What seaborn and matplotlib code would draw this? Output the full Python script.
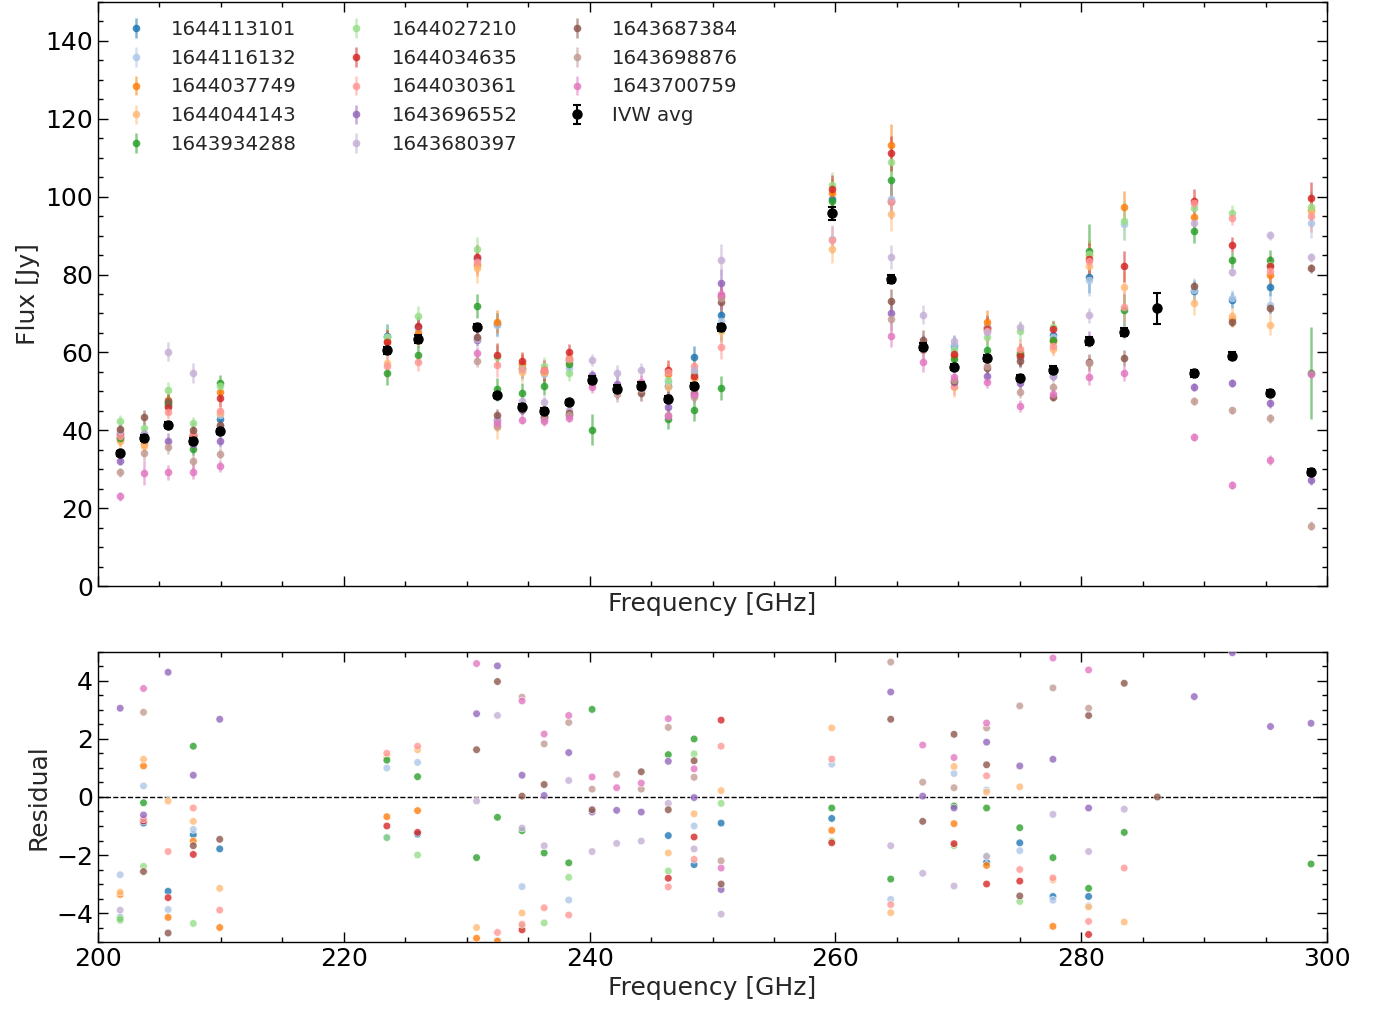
import numpy as np
import pandas as pd
import matplotlib
matplotlib.use("Agg")
import matplotlib.pyplot as plt
import seaborn as sns
from matplotlib.ticker import MultipleLocator

nan = np.nan

freq = [201.8, 203.7, 205.7, 207.75, 209.9, 223.5, 226.0, 230.8, 232.5, 234.5, 236.3, 238.3,
        240.2, 242.2, 244.2, 246.4, 248.5, 250.7, 259.7, 264.5, 267.1, 269.65, 272.3, 275.0,
        277.7, 280.6, 283.5, 286.2, 289.2, 292.3, 295.4, 298.7]

labels = ["1644113101", "1644116132", "1644037749", "1644044143", "1643934288",
          "1644027210", "1644034635", "1644030361", "1643696552", "1643680397",
          "1643687384", "1643698876", "1643700759"]

flux_1644113101 = [38.4, 38.0, 46.5, 38.5, 42.9, 64.3, 66.5, 84.0, 67.2, 56.0, 55.0, 58.0, nan, nan, nan, 51.5, 58.7, 69.7, 99.3, 99.0, nan, 61.6, 66.6, 59.3, 64.4, 79.3, nan, nan, 75.7, 73.4, 76.9, nan]
flux_1644116132 = [38.0, 38.3, 46.8, 39.0, 44.0, 64.0, 66.0, 84.0, 67.0, 55.5, 54.5, 56.0, nan, nan, nan, 52.5, 54.5, 68.0, 89.2, 99.3, nan, 62.0, 66.5, 58.5, 64.0, 78.5, 93.0, nan, 76.0, 74.0, 72.1, 93.3]
flux_1644037749 = [37.5, 36.5, 47.9, 38.5, 49.8, 63.0, 65.0, 82.5, 67.9, 57.0, 55.0, 58.5, nan, nan, nan, 54.5, 53.5, 66.0, 101.0, 113.2, nan, 59.0, 67.8, 60.0, 63.0, 85.0, 97.4, nan, 94.9, 68.5, 80.0, 96.5]
flux_1644044143 = [37.3, 36.0, 47.2, 38.5, 44.5, 57.3, 64.0, 81.7, 40.8, 55.0, 55.0, 57.5, nan, nan, nan, 51.0, 53.5, 65.4, 86.5, 95.6, nan, 51.0, 66.0, 60.0, 61.0, 82.3, 76.8, nan, 72.7, 69.3, 67.1, 96.3]
flux_1643934288 = [38.0, 38.5, 47.0, 35.2, 52.2, 54.7, 59.4, 71.9, 50.5, 49.6, 51.5, 56.9, 40.1, nan, nan, 42.9, 45.3, 50.9, 98.9, 104.2, nan, 58.2, 60.6, 59.7, 63.1, 86.0, 70.9, nan, 91.2, 83.8, 83.8, 54.7]
flux_1644027210 = [42.5, 40.7, 50.4, 41.9, 51.3, 64.0, 69.3, 86.6, 58.9, 56.0, 56.4, 54.7, nan, nan, nan, 53.0, 55.0, 66.0, 102.9, 109.0, nan, 60.7, 64.0, 65.4, 66.4, 85.3, 93.8, nan, 97.2, 95.9, 82.5, 97.4]
flux_1644034635 = [39.0, 38.0, 45.9, 38.9, 48.3, 62.7, 66.7, 84.5, 59.4, 57.7, 55.5, 60.2, nan, nan, nan, 55.6, 53.9, 74.5, 102.1, 111.1, nan, 59.6, 66.1, 59.0, 66.1, 84.1, 82.1, nan, 98.9, 87.7, 82.2, 99.7]
flux_1644030361 = [38.6, 38.0, 44.8, 39.0, 45.0, 56.4, 57.6, 83.3, 56.7, 55.8, 55.6, 58.4, nan, nan, nan, 54.9, 56.6, 61.4, 89.0, 98.7, nan, 51.5, 65.5, 61.0, 61.6, 83.5, 71.7, nan, 98.3, 94.6, 80.9, 95.0]
flux_1643696552 = [32.2, 39.0, 37.3, 36.5, 37.3, nan, nan, 63.1, 42.7, 45.1, 43.5, 44.0, 54.1, 52.0, 51.0, 45.9, 49.0, 77.8, nan, 70.2, 62.0, 52.5, 53.9, 52.2, 53.9, 63.5, nan, nan, 51.1, 52.2, 46.9, 27.2]
flux_1643680397 = [39.7, 39.0, 60.2, 54.7, 41.0, nan, nan, 63.5, 43.0, 47.4, 47.2, 45.3, 58.0, 54.7, 55.4, 48.5, 55.4, 83.8, nan, 84.5, 69.7, 62.9, 65.2, 66.5, 54.0, 69.5, 65.5, nan, 93.2, 80.7, 90.1, 84.4]
flux_1643687384 = [40.4, 43.3, 47.4, 40.1, 41.3, nan, nan, 63.9, 44.0, 45.5, 43.5, 44.5, 52.5, 50.0, 49.6, 48.5, 49.5, 73.0, nan, 73.3, 63.3, 52.6, 55.9, 57.7, 48.6, 57.5, 58.6, 71.3, 77.0, 67.9, 71.3, 81.6]
flux_1643698876 = [29.2, 34.1, 35.8, 32.0, 34.0, nan, nan, 57.7, 41.2, 45.5, 43.0, 44.0, 52.0, 49.2, 50.5, 43.9, 48.5, 74.0, nan, 68.5, 60.7, 53.0, 56.5, 49.8, 51.1, 57.2, nan, nan, 47.5, 45.1, 43.1, 15.5]
flux_1643700759 = [23.0, 29.0, 29.2, 29.4, 30.9, nan, nan, 59.9, 41.9, 42.7, 42.5, 43.2, 51.1, 50.5, 52.3, 43.7, 49.3, 74.9, nan, 64.3, 57.5, 53.6, 52.3, 46.3, 49.3, 53.6, 54.6, nan, 38.3, 26.0, 32.4, 54.5]

ivw_avg = [34.1, 38.0, 41.4, 37.3, 39.7, 60.5, 63.5, 66.5, 49.0, 46.1, 44.9, 47.2, 53.0, 50.7, 51.5, 48.0, 51.3, 66.5, 95.7, 78.9, 61.4, 56.2, 58.6, 53.4, 55.6, 63.0, 65.3, 71.3, 54.6, 59.2, 49.6, 29.2]
ivw_err = [0.7, 0.7, 0.7, 0.7, 0.7, 1.0, 1.0, 0.8, 0.7, 0.7, 0.7, 0.7, 0.9, 0.9, 0.9, 0.8, 0.8, 0.9, 1.7, 1.0, 0.9, 0.8, 0.8, 0.8, 0.8, 1.0, 1.0, 4.0, 0.8, 0.8, 0.8, 0.8]

# typical flux uncertainties for the two observing groups
err_groupA = [1.5, 1.5, 2.0, 1.5, 2.0, 3.0, 2.5, 3.0, 3.0, 2.5, 2.5, 2.0, 4.0, 2.0, 2.0, 2.5, 3.0, 3.0, 3.5, 4.5, 2.0, 2.5, 3.0, 2.5, 2.0, 4.0, 4.0, 2.0, 3.0, 2.0, 2.5, 4.0]
err_groupB = [1.2, 2.0, 2.0, 2.0, 1.5, 1.5, 1.5, 1.5, 1.5, 1.2, 1.5, 1.2, 1.5, 2.0, 2.0, 1.5, 1.5, 3.5, 1.5, 3.0, 2.5, 1.5, 1.5, 1.5, 1.2, 2.0, 2.0, 1.5, 1.0, 1.0, 1.2, 1.2]
err_special = [(4, 25, 7.0), (4, 31, 11.7), (2, 19, 5.5), (5, 26, 5.0), (12, 1, 3.0),
               (3, 7, 4.0), (9, 2, 2.5), (9, 17, 4.0), (9, 3, 2.5)]

res_1644113101 = [-4.16, -0.90, -3.25, -1.30, -1.79, -1.40, -1.28, nan, nan, nan, nan, nan, nan, nan, nan, -1.33, -2.33, -0.90, -0.74, nan, nan, nan, -2.25, -1.58, -3.43, -3.43, nan, nan, nan, nan, nan, nan]
res_1644116132 = [-2.68, 0.38, -3.88, -1.12, nan, 1.00, 1.19, nan, -4.94, -3.09, nan, -3.55, nan, nan, nan, nan, -1.00, nan, 1.13, -3.53, nan, 0.81, 0.24, -1.85, -3.56, -3.75, nan, nan, nan, nan, nan, nan]
res_1644037749 = [-3.36, 1.07, -4.15, -1.52, -4.50, -0.68, -0.47, -4.87, -4.97, nan, nan, nan, nan, nan, nan, nan, nan, nan, -1.15, nan, nan, -0.92, -2.36, nan, -4.46, nan, nan, nan, nan, nan, nan, nan]
res_1644044143 = [-3.28, 1.30, -0.14, -0.84, -3.15, 1.38, 1.63, -4.50, nan, -4.00, nan, nan, nan, nan, nan, -1.93, -0.58, 0.22, 2.38, -3.99, nan, 1.05, 0.17, 0.35, -2.86, -3.79, -4.31, nan, nan, nan, nan, nan]
res_1643934288 = [-4.24, -0.20, nan, 1.75, nan, 1.27, 0.70, -2.09, -0.70, -1.16, -1.93, -2.27, 3.02, nan, nan, 1.46, 2.00, nan, -0.38, -2.83, nan, -0.31, -0.38, -1.06, -2.09, -3.15, -1.22, nan, nan, nan, nan, -2.31]
res_1644027210 = [-4.20, -2.39, nan, -4.36, nan, -1.40, -2.00, nan, nan, -4.45, -4.34, -2.77, nan, nan, nan, -2.55, 1.49, -0.22, -1.52, nan, nan, -1.68, -2.03, -3.60, nan, nan, nan, nan, nan, nan, nan, nan]
res_1644034635 = [nan, -0.83, -3.47, -1.98, nan, -1.00, -1.22, nan, nan, -4.58, nan, nan, nan, nan, nan, -2.80, -1.38, 2.65, -1.58, nan, nan, -1.61, -3.00, -2.90, nan, -4.74, nan, nan, nan, nan, nan, nan]
res_1644030361 = [nan, -0.75, -1.88, -0.38, -3.90, 1.51, 1.75, nan, -4.67, -4.39, -3.82, -4.07, nan, nan, nan, -3.10, -2.15, 1.75, 1.31, -3.71, nan, nan, 0.73, -2.50, -2.79, -4.29, -2.45, nan, nan, nan, nan, nan]
res_1643696552 = [3.06, -0.62, 4.30, 0.75, 2.68, nan, nan, 2.87, 4.52, 0.75, 0.05, 1.53, -0.52, -0.46, -0.52, 1.23, -0.02, -3.19, nan, 3.62, 0.03, -0.38, 1.89, 1.07, 1.30, -0.38, nan, nan, 3.46, 4.97, 2.43, 2.54]
res_1643680397 = [-3.90, nan, nan, nan, nan, nan, nan, -0.14, 2.81, -1.07, -1.68, 0.57, -1.88, -1.60, -1.52, -0.22, -1.79, -4.04, nan, -1.68, -2.63, -3.07, -2.05, nan, -0.60, -1.88, -0.42, nan, nan, nan, nan, nan]
res_1643687384 = [nan, -2.57, -4.69, -1.68, -1.46, nan, nan, 1.63, 3.98, 0.03, 0.43, nan, -0.44, nan, 0.87, -0.44, 1.25, -3.00, nan, 2.68, -0.84, 2.16, 1.11, -3.41, nan, 2.81, 3.92, 0.00, nan, nan, nan, nan]
res_1643698876 = [nan, 2.92, nan, nan, nan, nan, nan, nan, nan, 3.44, 1.83, 2.57, 0.27, 0.78, 0.27, 2.40, 0.68, -2.20, nan, 4.65, 0.51, 0.32, 2.38, 3.14, 3.76, 3.06, nan, nan, nan, nan, nan, nan]
res_1643700759 = [nan, 3.74, nan, nan, nan, nan, nan, 4.60, nan, 3.31, 2.17, 2.81, 0.69, 0.32, 0.48, 2.70, 0.97, -2.45, nan, nan, 1.79, 1.36, 2.55, nan, 4.79, 4.38, nan, nan, nan, nan, nan, nan]

fluxes = [flux_1644113101, flux_1644116132, flux_1644037749, flux_1644044143, flux_1643934288,
          flux_1644027210, flux_1644034635, flux_1644030361, flux_1643696552, flux_1643680397,
          flux_1643687384, flux_1643698876, flux_1643700759]
resids = [res_1644113101, res_1644116132, res_1644037749, res_1644044143, res_1643934288,
          res_1644027210, res_1644034635, res_1644030361, res_1643696552, res_1643680397,
          res_1643687384, res_1643698876, res_1643700759]

# ---------------------------------------------------------------- style
sns.set_theme(style="ticks")
plt.rcParams['font.family'] = ['DejaVu Sans']
plt.rcParams.update({
    'xtick.direction': 'in', 'ytick.direction': 'in',
    'xtick.top': True, 'ytick.right': True,
    'xtick.major.size': 7, 'ytick.major.size': 7,
    'xtick.minor.size': 3.5, 'ytick.minor.size': 3.5,
    'xtick.major.width': 1.0, 'ytick.major.width': 1.0,
    'axes.edgecolor': 'black', 'axes.linewidth': 1.0,
    'xtick.color': 'black', 'ytick.color': 'black',
})
palette = sns.color_palette("tab20", 13)

fig = plt.figure(figsize=(13.77, 10.10), dpi=100)
ax1 = fig.add_axes([0.0712, 0.4198, 0.8925, 0.5782])
ax2 = fig.add_axes([0.0712, 0.0673, 0.8925, 0.2872])

# ---------------------------------------------------------------- top panel
for i, (lab, fl) in enumerate(zip(labels, fluxes)):
    base = err_groupA if i < 8 else err_groupB
    err = list(base)
    for (si, ci, ev) in err_special:
        if si == i:
            err[ci] = ev
    eb = ax1.errorbar(freq, fl, yerr=err, fmt='o', color=palette[i], ms=5.5,
                      mew=0, alpha=0.85, elinewidth=1.8, capsize=0, label=lab, zorder=2)
    for bl in eb[2]:
        bl.set_alpha(0.55)

ax1.errorbar(freq, ivw_avg, yerr=ivw_err, fmt='o', color='black', ms=6.5,
             elinewidth=1.5, capsize=3, capthick=1.5, label='IVW avg', zorder=5)

ax1.set_xlim(200, 300)
ax1.set_ylim(0, 150)
ax1.xaxis.set_major_locator(MultipleLocator(20))
ax1.xaxis.set_minor_locator(MultipleLocator(5))
ax1.yaxis.set_major_locator(MultipleLocator(20))
ax1.yaxis.set_minor_locator(MultipleLocator(5))
ax1.tick_params(axis='x', which='both', labelbottom=False, top=True, direction='in')
ax1.tick_params(axis='y', which='both', right=True, direction='in', labelsize=18)
ax1.tick_params(which='minor', top=True, right=True, direction='in')
ax1.set_ylabel('Flux [Jy]', fontsize=18)
ax1.set_xlabel('Frequency [GHz]', fontsize=18)
ax1.legend(loc='upper left', ncol=3, frameon=False, fontsize=14.2)

# ---------------------------------------------------------------- residuals
rows = []
for lab, rs in zip(labels, resids):
    for f, r in zip(freq, rs):
        if not np.isnan(r):
            rows.append({'freq': f, 'resid': r, 'obs': lab})
df = pd.DataFrame(rows)
sns.scatterplot(data=df, x='freq', y='resid', hue='obs', hue_order=labels,
                palette=palette, s=30, alpha=0.8, edgecolor='white', linewidth=0.5,
                legend=False, ax=ax2, zorder=3)
ax2.axhline(0, color='black', ls='--', lw=1.0, zorder=1)
ax2.set_xlim(200, 300)
ax2.set_ylim(-5, 5)
ax2.xaxis.set_major_locator(MultipleLocator(20))
ax2.xaxis.set_minor_locator(MultipleLocator(5))
ax2.yaxis.set_major_locator(MultipleLocator(2))
ax2.yaxis.set_minor_locator(MultipleLocator(0.5))
ax2.tick_params(which='both', top=True, right=True, direction='in', labelsize=18)
ax2.set_xlabel('Frequency [GHz]', fontsize=18)
ax2.set_ylabel('Residual', fontsize=18)

fig.savefig('out.png', dpi=100)
